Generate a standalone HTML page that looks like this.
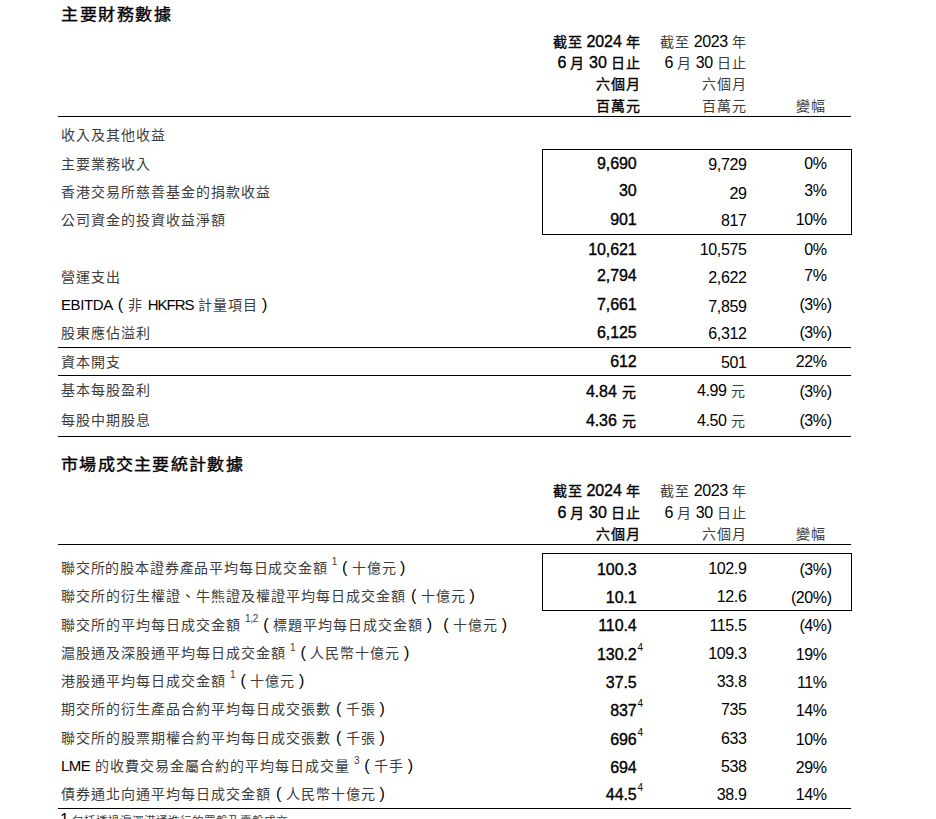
<!DOCTYPE html>
<html lang="zh-TW"><head><meta charset="utf-8"><style>
html,body{margin:0;padding:0;background:#fff;}
body{width:936px;height:819px;overflow:hidden;position:relative;font-family:"Liberation Sans",sans-serif;color:#000;}
.t{position:absolute;white-space:nowrap;line-height:20px;font-size:14px;letter-spacing:1px;color:#3c3c3c;}
.n,.c,.bd,.ti{color:#000;}
.n{font-size:16px;letter-spacing:-0.4px;line-height:1;}
.fp{display:inline-block;width:15px;text-align:center;line-height:1;font-size:15px;letter-spacing:0;}
.bd{-webkit-text-stroke:0.35px #000;}
.bd .n{letter-spacing:-0.1px;}
.ti{-webkit-text-stroke:0.4px #000;letter-spacing:2.8px;}
.hang{margin-right:-5px;}
.c{font-size:15px;line-height:1;}
.fr{padding-right:3px;width:12px;}
.hang2{display:inline-block;width:0;}
.l{position:absolute;background:#000;}
.b{position:absolute;border:1px solid #000;}
sup{font-size:10px;vertical-align:0;position:relative;top:-7.5px;margin-left:-0.8px;line-height:0;letter-spacing:-0.3px;-webkit-text-stroke:0;}
.sb{font-size:10px;margin-left:1px;top:-8.5px;}
</style></head><body>
<div class="t ti" style="left:61.00px;top:4.71px;font-size:17px;letter-spacing:1.5px;transform:scaleY(0.92);transform-origin:0 15.5px">主要財務數據</div>
<div class="t bd" style="right:295.40px;top:32.35px;word-spacing:-1px">截至 <span class="n">2024</span> 年</div>
<div class="t " style="right:189.40px;top:32.35px;word-spacing:-1px">截至 <span class="n">2023</span> 年</div>
<div class="t bd" style="right:295.40px;top:52.85px;word-spacing:-1px"><span class="n">6</span> 月 <span class="n">30</span> 日止</div>
<div class="t " style="right:189.40px;top:52.85px;word-spacing:-1px"><span class="n">6</span> 月 <span class="n">30</span> 日止</div>
<div class="t bd" style="right:295.40px;top:74.35px;word-spacing:-1px">六個月</div>
<div class="t " style="right:189.40px;top:74.35px;word-spacing:-1px">六個月</div>
<div class="t bd" style="right:295.40px;top:95.85px;word-spacing:-1px">百萬元</div>
<div class="t " style="right:189.40px;top:95.85px;word-spacing:-1px">百萬元</div>
<div class="t " style="right:110.20px;top:95.85px;">變幅</div>
<div class="l" style="left:58px;top:116px;width:793px;height:1px"></div>
<div class="t " style="left:61.00px;top:124.95px;">收入及其他收益</div>
<div class="t " style="left:61.00px;top:154.05px;">主要業務收入</div>
<div class="t bd" style="right:299.40px;top:154.35px;"><span class="n">9,690</span></div>
<div class="t " style="right:189.60px;top:154.95px;"><span class="n">9,729</span></div>
<div class="t " style="right:109.40px;top:154.35px;"><span class="n">0%</span></div>
<div class="t " style="left:61.00px;top:182.45px;">香港交易所慈善基金的捐款收益</div>
<div class="t bd" style="right:299.40px;top:181.05px;"><span class="n">30</span></div>
<div class="t " style="right:189.60px;top:183.75px;"><span class="n">29</span></div>
<div class="t " style="right:109.40px;top:181.05px;"><span class="n">3%</span></div>
<div class="t " style="left:61.00px;top:209.95px;">公司資金的投資收益淨額</div>
<div class="t bd" style="right:299.40px;top:210.25px;"><span class="n">901</span></div>
<div class="t " style="right:189.60px;top:210.95px;"><span class="n">817</span></div>
<div class="t " style="right:109.40px;top:210.25px;"><span class="n">10%</span></div>
<div class="t bd" style="right:299.40px;top:239.55px;"><span class="n">10,621</span></div>
<div class="t " style="right:189.60px;top:239.95px;"><span class="n">10,575</span></div>
<div class="t " style="right:109.40px;top:239.55px;"><span class="n">0%</span></div>
<div class="t " style="left:61.00px;top:267.05px;">營運支出</div>
<div class="t bd" style="right:299.40px;top:266.45px;"><span class="n">2,794</span></div>
<div class="t " style="right:189.60px;top:268.05px;"><span class="n">2,622</span></div>
<div class="t " style="right:109.40px;top:266.45px;"><span class="n">7%</span></div>
<div class="t " style="left:61.00px;top:294.85px;"><span class="c" style="letter-spacing:-0.4px">EBITDA</span><span class="fp"><span class="n">(</span></span>非 <span class="c" style="letter-spacing:-1.0px">HKFRS</span> 計量項目<span class="fp fr"><span class="n">)</span></span></div>
<div class="t bd" style="right:299.40px;top:295.15px;"><span class="n">7,661</span></div>
<div class="t " style="right:189.60px;top:296.95px;"><span class="n">7,859</span></div>
<div class="t " style="right:109.40px;top:295.15px;"><span class="n">(3%<span class="hang">)</span></span></div>
<div class="t " style="left:61.00px;top:322.55px;">股東應佔溢利</div>
<div class="t bd" style="right:299.40px;top:322.85px;"><span class="n">6,125</span></div>
<div class="t " style="right:189.60px;top:324.15px;"><span class="n">6,312</span></div>
<div class="t " style="right:109.40px;top:322.85px;"><span class="n">(3%<span class="hang">)</span></span></div>
<div class="t " style="left:61.00px;top:352.05px;">資本開支</div>
<div class="t bd" style="right:299.40px;top:352.35px;"><span class="n">612</span></div>
<div class="t " style="right:189.60px;top:353.15px;"><span class="n">501</span></div>
<div class="t " style="right:109.40px;top:352.35px;"><span class="n">22%</span></div>
<div class="t " style="left:61.00px;top:380.25px;">基本每股盈利</div>
<div class="t bd" style="right:299.40px;top:381.85px;"><span class="n">4.84</span> 元</div>
<div class="t " style="right:189.60px;top:380.75px;"><span class="n">4.99</span> 元</div>
<div class="t " style="right:109.40px;top:381.85px;"><span class="n">(3%<span class="hang">)</span></span></div>
<div class="t " style="left:61.00px;top:409.75px;">每股中期股息</div>
<div class="t bd" style="right:299.40px;top:411.35px;"><span class="n">4.36</span> 元</div>
<div class="t " style="right:189.60px;top:410.65px;"><span class="n">4.50</span> 元</div>
<div class="t " style="right:109.40px;top:411.35px;"><span class="n">(3%<span class="hang">)</span></span></div>
<div class="b" style="left:542px;top:149px;width:308px;height:84px"></div>
<div class="l" style="left:58px;top:347px;width:793px;height:1px"></div>
<div class="l" style="left:58px;top:375px;width:793px;height:1px"></div>
<div class="l" style="left:58px;top:436px;width:793px;height:1px"></div>
<div class="t ti" style="left:61.00px;top:454.61px;font-size:17px;letter-spacing:1.3px;transform:scaleY(0.92);transform-origin:0 15.5px">市場成交主要統計數據</div>
<div class="t bd" style="right:295.40px;top:480.85px;word-spacing:-1px">截至 <span class="n">2024</span> 年</div>
<div class="t " style="right:189.40px;top:480.85px;word-spacing:-1px">截至 <span class="n">2023</span> 年</div>
<div class="t bd" style="right:295.40px;top:502.55px;word-spacing:-1px"><span class="n">6</span> 月 <span class="n">30</span> 日止</div>
<div class="t " style="right:189.40px;top:502.55px;word-spacing:-1px"><span class="n">6</span> 月 <span class="n">30</span> 日止</div>
<div class="t bd" style="right:295.40px;top:523.95px;word-spacing:-1px">六個月</div>
<div class="t " style="right:189.40px;top:523.95px;word-spacing:-1px">六個月</div>
<div class="t " style="right:110.20px;top:523.95px;">變幅</div>
<div class="l" style="left:58px;top:544px;width:793px;height:1px"></div>
<div class="t " style="left:61.00px;top:557.55px;letter-spacing:0.82px">聯交所的股本證券產品平均每日成交金額 <sup>1</sup><span class="fp"><span class="n">(</span></span>十億元<span class="fp fr"><span class="n">)</span></span></div>
<div class="t bd" style="right:299.40px;top:559.75px;"><span class="n">100.3</span></div>
<div class="t " style="right:189.60px;top:558.75px;"><span class="n">102.9</span></div>
<div class="t " style="right:109.40px;top:560.25px;"><span class="n">(3%<span class="hang">)</span></span></div>
<div class="t " style="left:61.00px;top:585.85px;">聯交所的衍生權證、牛熊證及權證平均每日成交金額<span class="fp"><span class="n">(</span></span>十億元<span class="fp fr"><span class="n">)</span></span></div>
<div class="t bd" style="right:299.40px;top:588.25px;"><span class="n">10.1</span></div>
<div class="t " style="right:189.60px;top:587.25px;"><span class="n">12.6</span></div>
<div class="t " style="right:109.40px;top:588.25px;"><span class="n">(20%<span class="hang">)</span></span></div>
<div class="t " style="left:61.00px;top:614.75px;">聯交所的平均每日成交金額 <sup>1,2</sup><span class="fp"><span class="n">(</span></span>標題平均每日成交金額<span class="fp fr"><span class="n">)</span></span><span class="fp"><span class="n">(</span></span>十億元<span class="fp fr"><span class="n">)</span></span></div>
<div class="t bd" style="right:299.40px;top:616.35px;"><span class="n">110.4</span></div>
<div class="t " style="right:189.60px;top:615.95px;"><span class="n">115.5</span></div>
<div class="t " style="right:109.40px;top:616.35px;"><span class="n">(4%<span class="hang">)</span></span></div>
<div class="t " style="left:61.00px;top:643.15px;">滬股通及深股通平均每日成交金額 <sup>1</sup><span class="fp"><span class="n">(</span></span>人民幣十億元<span class="fp fr"><span class="n">)</span></span></div>
<div class="t bd" style="right:299.40px;top:644.55px;"><span class="n">130.2<span class="hang2"><sup class="sb">4</sup></span></span></div>
<div class="t " style="right:189.60px;top:643.85px;"><span class="n">109.3</span></div>
<div class="t " style="right:109.40px;top:644.55px;"><span class="n">19%</span></div>
<div class="t " style="left:61.00px;top:670.55px;">港股通平均每日成交金額 <sup>1</sup><span class="fp"><span class="n">(</span></span>十億元<span class="fp fr"><span class="n">)</span></span></div>
<div class="t bd" style="right:299.40px;top:672.75px;"><span class="n">37.5</span></div>
<div class="t " style="right:189.60px;top:672.25px;"><span class="n">33.8</span></div>
<div class="t " style="right:109.40px;top:672.75px;"><span class="n">11%</span></div>
<div class="t " style="left:61.00px;top:698.55px;">期交所的衍生產品合約平均每日成交張數<span class="fp"><span class="n">(</span></span>千張<span class="fp fr"><span class="n">)</span></span></div>
<div class="t bd" style="right:299.40px;top:700.65px;"><span class="n">837<span class="hang2"><sup class="sb">4</sup></span></span></div>
<div class="t " style="right:189.60px;top:699.55px;"><span class="n">735</span></div>
<div class="t " style="right:109.40px;top:700.65px;"><span class="n">14%</span></div>
<div class="t " style="left:61.00px;top:728.25px;">聯交所的股票期權合約平均每日成交張數<span class="fp"><span class="n">(</span></span>千張<span class="fp fr"><span class="n">)</span></span></div>
<div class="t bd" style="right:299.40px;top:729.65px;"><span class="n">696<span class="hang2"><sup class="sb">4</sup></span></span></div>
<div class="t " style="right:189.60px;top:728.55px;"><span class="n">633</span></div>
<div class="t " style="right:109.40px;top:729.65px;"><span class="n">10%</span></div>
<div class="t " style="left:61.00px;top:756.05px;"><span class="c" style="letter-spacing:-0.6px">LME</span> 的收費交易金屬合約的平均每日成交量 <sup>3</sup><span class="fp"><span class="n">(</span></span>千手<span class="fp fr"><span class="n">)</span></span></div>
<div class="t bd" style="right:299.40px;top:757.65px;"><span class="n">694</span></div>
<div class="t " style="right:189.60px;top:756.65px;"><span class="n">538</span></div>
<div class="t " style="right:109.40px;top:757.65px;"><span class="n">29%</span></div>
<div class="t " style="left:61.00px;top:784.25px;">債券通北向通平均每日成交金額<span class="fp"><span class="n">(</span></span>人民幣十億元<span class="fp fr"><span class="n">)</span></span></div>
<div class="t bd" style="right:299.40px;top:784.85px;"><span class="n">44.5<span class="hang2"><sup class="sb">4</sup></span></span></div>
<div class="t " style="right:189.60px;top:784.75px;"><span class="n">38.9</span></div>
<div class="t " style="right:109.40px;top:784.75px;"><span class="n">14%</span></div>
<div class="b" style="left:542px;top:553px;width:308px;height:56px"></div>
<div class="l" style="left:58px;top:808px;width:793px;height:1px"></div>
<div class="t " style="left:60.00px;top:811.18px;font-size:11.6px;letter-spacing:0"><span class="n">1</span> 包括透過滬深港通進行的買盤及賣盤成交</div>
</body></html>
